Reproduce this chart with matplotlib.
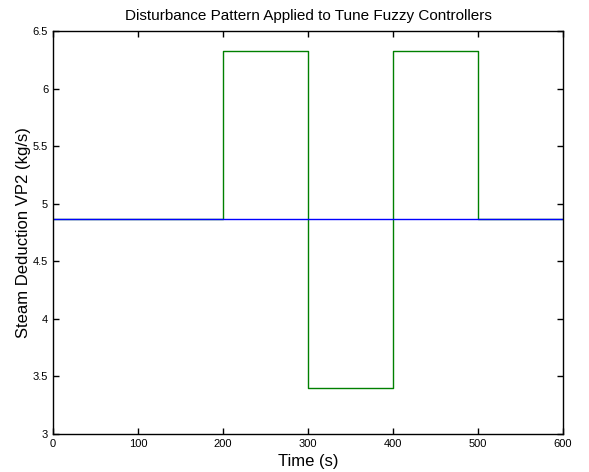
import matplotlib.pyplot as plt
import numpy as np

plt.rcParams['font.family'] = ['Liberation Sans', 'DejaVu Sans']

# disturbance steps (time in s, steam deduction in kg/s)
t_steps = [0, 200, 300, 400, 500, 600]
disturbance = [4.865, 6.33, 3.40, 6.33, 4.865, 4.865]
nominal_t = [0, 600]
nominal = [4.865, 4.865]

fig = plt.figure(figsize=(5.89, 4.72), dpi=100)
ax = fig.add_axes([0.090, 0.0805, 0.866, 0.8535])

ax.plot(t_steps, disturbance, drawstyle='steps-post', color=(0, 0.5, 0), lw=1)
ax.plot(nominal_t, nominal, color=(0, 0, 1), lw=1)

ax.set_xlim(0, 600)
ax.set_ylim(3, 6.5)
ax.set_xticks(np.arange(0, 601, 100))
ax.set_yticks([3, 3.5, 4, 4.5, 5, 5.5, 6, 6.5])
ax.set_yticklabels(['3', '3.5', '4', '4.5', '5', '5.5', '6', '6.5'])
ax.tick_params(direction='in', top=True, right=True, labelsize=8, length=4, width=1)
for s in ax.spines.values():
    s.set_linewidth(1)

ax.set_title('Disturbance Pattern Applied to Tune Fuzzy Controllers', fontsize=11, pad=8)
ax.set_xlabel('Time (s)', fontsize=12, labelpad=4)
ax.set_ylabel('Steam Deduction VP2 (kg/s)', fontsize=12, labelpad=1)

fig.savefig('out.png', dpi=100)
